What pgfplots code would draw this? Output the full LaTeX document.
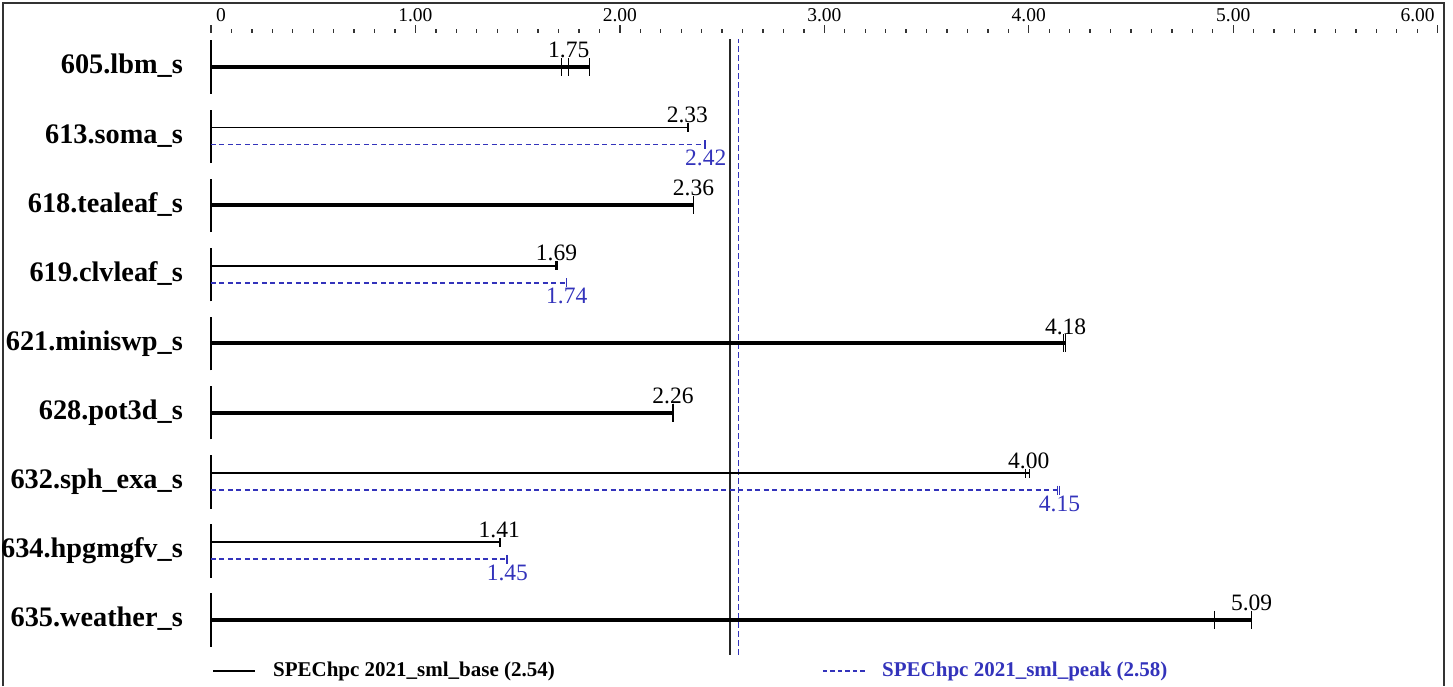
\documentclass[border=0pt]{standalone}
\usepackage{fontspec}
\setmainfont{Liberation Serif}
\usepackage{pgfplots}
\pgfplotsset{compat=1.18}

\definecolor{peakblue}{RGB}{51,51,187}
\newcommand\valfont{\fontsize{23.5}{26}\selectfont}
\newcommand\namefont{\fontsize{28.3}{30}\selectfont\bfseries}
\newcommand\legfont{\fontsize{21}{24}\selectfont\bfseries}

\begin{document}
\begin{tikzpicture}
\begin{axis}[
  scale only axis,
  width=1226.7pt, height=653pt,
  xmin=0, xmax=6, ymin=-0.958, ymax=8.492,
  axis x line*=top, axis y line=none,
  x axis line style={draw=none},
  xtick={0,1,2,3,4,5,6},
  xticklabels={\hspace*{20pt}0, 1.00, 2.00, 3.00, 4.00, 5.00, 6.00\hspace*{40pt}},
  minor x tick num=9,
  tick align=outside,
  major tick length=8pt, minor tick length=4pt,
  every tick/.style={black!80, line width=1.3pt},
  xticklabel style={font=\fontsize{19.5}{22}\selectfont, anchor=south, inner sep=0pt, yshift=3pt},
  ytick=\empty,
  clip=false,
]

% frame and page size
\coordinate (pgll) at (axis cs:-1.032,-0.958);
\coordinate (pgur) at (axis cs:6.075,8.970);
\draw[line width=2pt, black!80] (axis cs:-1.018,-0.958) -- (axis cs:-1.018,8.926)
  -- (axis cs:6.031,8.926) -- (axis cs:6.031,-0.958);

% row starts
\draw[line width=1.5pt] (axis cs:0,7.61) -- (axis cs:0,8.385);
\draw[line width=1.5pt] (axis cs:0,6.61) -- (axis cs:0,7.385);
\draw[line width=1.5pt] (axis cs:0,5.61) -- (axis cs:0,6.385);
\draw[line width=1.5pt] (axis cs:0,4.61) -- (axis cs:0,5.385);
\draw[line width=1.5pt] (axis cs:0,3.61) -- (axis cs:0,4.385);
\draw[line width=1.5pt] (axis cs:0,2.61) -- (axis cs:0,3.385);
\draw[line width=1.5pt] (axis cs:0,1.61) -- (axis cs:0,2.385);
\draw[line width=1.5pt] (axis cs:0,0.61) -- (axis cs:0,1.385);
\draw[line width=1.5pt] (axis cs:0,-0.39) -- (axis cs:0,0.385);

% benchmark names
\node[anchor=base east, inner sep=0pt, font=\namefont] at (axis cs:-0.137,7.90) {605.lbm\_s};
\node[anchor=base east, inner sep=0pt, font=\namefont] at (axis cs:-0.137,6.90) {613.soma\_s};
\node[anchor=base east, inner sep=0pt, font=\namefont] at (axis cs:-0.137,5.90) {618.tealeaf\_s};
\node[anchor=base east, inner sep=0pt, font=\namefont] at (axis cs:-0.137,4.90) {619.clvleaf\_s};
\node[anchor=base east, inner sep=0pt, font=\namefont] at (axis cs:-0.137,3.90) {621.miniswp\_s};
\node[anchor=base east, inner sep=0pt, font=\namefont] at (axis cs:-0.137,2.90) {628.pot3d\_s};
\node[anchor=base east, inner sep=0pt, font=\namefont] at (axis cs:-0.137,1.90) {632.sph\_exa\_s};
\node[anchor=base east, inner sep=0pt, font=\namefont] at (axis cs:-0.137,0.90) {634.hpgmgfv\_s};
\node[anchor=base east, inner sep=0pt, font=\namefont] at (axis cs:-0.137,-0.10) {635.weather\_s};

% mean lines
\addplot[black!85, line width=1.6pt] coordinates {(2.54,-0.507) (2.54,8.405)};
\addplot[peakblue, line width=1.6pt, dash pattern=on 6pt off 3pt] coordinates {(2.58,-0.507) (2.58,8.405)};

% base and peak equal: thick bars
\addplot[black, line width=4pt] coordinates {(0,8) (1.85,8)};
\addplot[black, line width=4pt] coordinates {(0,6) (2.36,6)};
\addplot[black, line width=4pt] coordinates {(0,4) (4.18,4)};
\addplot[black, line width=4pt] coordinates {(0,3) (2.26,3)};
\addplot[black, line width=4pt] coordinates {(0,0) (5.09,0)};
\addplot[only marks, mark=|, mark size=9pt, mark options={black, line width=1.3pt}] coordinates {
  (1.716,8) (1.75,8) (1.85,8)
  (2.36,6) (2.36,6) (2.36,6)
  (4.17,4) (4.18,4) (4.18,4)
  (2.26,3) (2.26,3) (2.26,3)
  (4.91,0) (5.09,0) (5.09,0)
};

% base thin bars
\addplot[black, line width=1.7pt] coordinates {(0,7.123) (2.33,7.123)};
\addplot[black, line width=1.7pt] coordinates {(0,5.123) (1.695,5.123)};
\addplot[black, line width=1.7pt] coordinates {(0,2.123) (4.005,2.123)};
\addplot[black, line width=1.7pt] coordinates {(0,1.123) (1.413,1.123)};
\addplot[only marks, mark=|, mark size=4.5pt, mark options={black, line width=1.3pt}] coordinates {
  (2.33,7.123) (2.333,7.123)
  (1.688,5.123) (1.695,5.123)
  (3.985,2.123) (4.005,2.123)
  (1.41,1.123) (1.413,1.123)
};

% peak dashed bars
\addplot[peakblue, line width=1.7pt, dash pattern=on 5pt off 3.5pt] coordinates {(0,6.877) (2.42,6.877)};
\addplot[peakblue, line width=1.7pt, dash pattern=on 5pt off 3.5pt] coordinates {(0,4.877) (1.74,4.877)};
\addplot[peakblue, line width=1.7pt, dash pattern=on 5pt off 3.5pt] coordinates {(0,1.877) (4.15,1.877)};
\addplot[peakblue, line width=1.7pt, dash pattern=on 5pt off 3.5pt] coordinates {(0,0.877) (1.448,0.877)};
\addplot[only marks, mark=|, mark size=4.5pt, mark options={peakblue, line width=1.3pt}] coordinates {
  (2.415,6.877) (2.42,6.877)
  (1.738,4.877) (1.74,4.877)
  (4.14,1.877) (4.15,1.877)
  (1.445,0.877) (1.448,0.877)
};

% value labels
\node[anchor=base, font=\valfont] at (axis cs:1.75,8.145) {1.75};
\node[anchor=base, font=\valfont] at (axis cs:2.33,7.195) {2.33};
\node[anchor=base, font=\valfont, text=peakblue] at (axis cs:2.42,6.573) {2.42};
\node[anchor=base, font=\valfont] at (axis cs:2.36,6.135) {2.36};
\node[anchor=base, font=\valfont] at (axis cs:1.69,5.195) {1.69};
\node[anchor=base, font=\valfont, text=peakblue] at (axis cs:1.74,4.573) {1.74};
\node[anchor=base, font=\valfont] at (axis cs:4.18,4.135) {4.18};
\node[anchor=base, font=\valfont] at (axis cs:2.26,3.135) {2.26};
\node[anchor=base, font=\valfont] at (axis cs:4.00,2.195) {4.00};
\node[anchor=base, font=\valfont, text=peakblue] at (axis cs:4.15,1.573) {4.15};
\node[anchor=base, font=\valfont] at (axis cs:1.41,1.195) {1.41};
\node[anchor=base, font=\valfont, text=peakblue] at (axis cs:1.45,0.573) {1.45};
\node[anchor=base, font=\valfont] at (axis cs:5.09,0.135) {5.09};

% legend
\draw[black, line width=1.5pt] (axis cs:0.01,-0.740) -- (axis cs:0.215,-0.740);
\node[anchor=base west, inner sep=0pt, font=\legfont] at (axis cs:0.303,-0.820) {SPEChpc 2021\_sml\_base (2.54)};
\draw[peakblue, line width=1.5pt, dash pattern=on 4.5pt off 3pt] (axis cs:2.993,-0.740) -- (axis cs:3.213,-0.740);
\node[anchor=base west, inner sep=0pt, font=\legfont, text=peakblue] at (axis cs:3.282,-0.820) {SPEChpc 2021\_sml\_peak (2.58)};
\end{axis}
\pgfresetboundingbox
\path (pgll) rectangle (pgur);
\end{tikzpicture}
\end{document}
